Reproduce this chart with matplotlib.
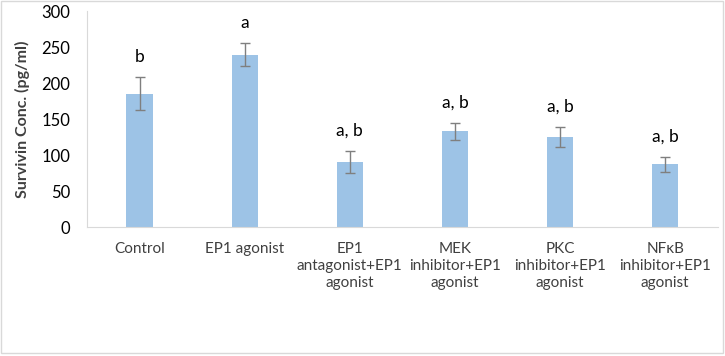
import matplotlib.pyplot as plt
from matplotlib.patches import Rectangle

groups = ["Control", "EP1 agonist", "EP1\nantagonist+EP1\nagonist",
          "MEK\ninhibitor+EP1\nagonist", "PKC\ninhibitor+EP1\nagonist",
          "NF\u03baB\ninhibitor+EP1\nagonist"]
survivin = [185, 239, 90, 133, 125, 87]
errs = [23, 16, 15, 12, 14, 10]
letters = ["b", "a", "a, b", "a, b", "a, b", "a, b"]

plt.rcParams['font.family'] = ['Lato', 'DejaVu Sans']

fig = plt.figure(figsize=(7.25, 3.56), dpi=100)
fig.patches.append(Rectangle((0.002, 0.008), 0.995, 0.988, transform=fig.transFigure,
                             fill=False, edgecolor='#d9d9d9', linewidth=1))
ax = fig.add_axes([0.12, 0.362, 0.87, 0.607])

x = range(len(groups))
ax.bar(x, survivin, width=0.25, color='#9dc3e6', zorder=2)
ax.errorbar(x, survivin, yerr=errs, fmt='none', ecolor='#7f7f7f',
            elinewidth=1, capsize=3.5, capthick=1, zorder=3)
for i in x:
    ax.annotate(letters[i], (i, survivin[i] + errs[i]), xytext=(0, 9),
                textcoords='offset points', ha='center', va='bottom',
                fontsize=12.5, color='#000000')

ax.set_xlim(-0.5, len(groups) - 0.5)
ax.set_ylim(0, 300)
ax.set_yticks(range(0, 301, 50))
ax.set_xticks(list(x))
ax.set_xticklabels(groups, fontsize=11, color='#404040', linespacing=1.25)
ax.tick_params(axis='y', labelsize=12, colors='#000000', length=0, pad=12)
ax.tick_params(axis='x', length=0, pad=11)
ax.set_ylabel("Survivin Conc. (pg/ml)", fontsize=11.5, fontweight='bold',
              color='#404040', labelpad=8)
for s in ['top', 'right']:
    ax.spines[s].set_visible(False)
ax.spines['left'].set_color('#d9d9d9')
ax.spines['bottom'].set_color('#d9d9d9')

fig.savefig("out.png", dpi=100)
